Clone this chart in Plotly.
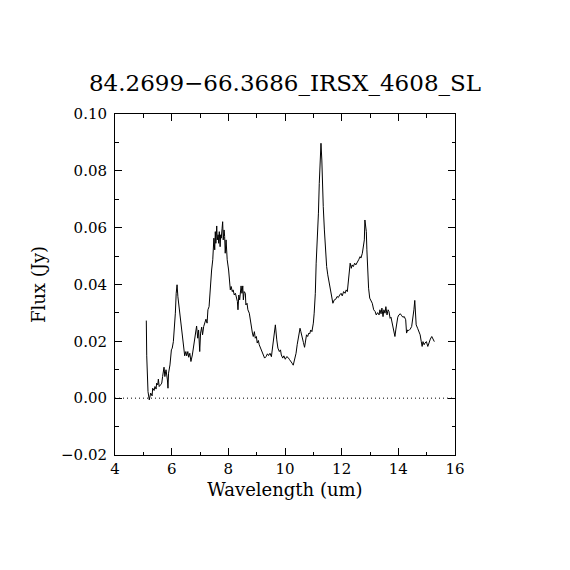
import plotly.graph_objects as go

title_text = "84.2699\u221266.3686_IRSX_4608_SL"
x_label = "Wavelength (um)"
y_label = "Flux (Jy)"

wavelength = [
    5.105, 5.12, 5.165, 5.21, 5.26, 5.31, 5.33, 5.38, 5.41, 5.45, 5.47, 5.51, 5.53, 5.56,
    5.61, 5.65, 5.68, 5.73, 5.76, 5.80, 5.85, 5.87, 5.89, 5.94, 5.99, 6.02, 6.06, 6.09,
    6.13, 6.16, 6.19, 6.22, 6.27, 6.32, 6.36, 6.41, 6.46, 6.50, 6.53, 6.57, 6.60, 6.64,
    6.68, 6.73, 6.76, 6.81, 6.85, 6.88, 6.92, 6.95, 6.99, 7.02, 7.06, 7.09, 7.13, 7.18,
    7.21, 7.25, 7.28, 7.32, 7.34, 7.36, 7.39, 7.41, 7.45, 7.47, 7.49, 7.52, 7.54, 7.56,
    7.59, 7.61, 7.64, 7.66, 7.68, 7.71, 7.73, 7.75, 7.78, 7.80, 7.82, 7.85, 7.87, 7.89,
    7.92, 7.96, 8.01, 8.03, 8.07, 8.10, 8.14, 8.17, 8.21, 8.25, 8.28, 8.32, 8.34, 8.37,
    8.40, 8.42, 8.45, 8.48, 8.51, 8.53, 8.56, 8.60, 8.62, 8.66, 8.69, 8.74, 8.78, 8.81,
    8.85, 8.88, 8.92, 8.95, 8.99, 9.02, 9.06, 9.09, 9.14, 9.19, 9.23, 9.28, 9.33, 9.38,
    9.42, 9.47, 9.52, 9.57, 9.61, 9.66, 9.71, 9.75, 9.80, 9.84, 9.87, 9.92, 9.96, 10.01,
    10.06, 10.11, 10.15, 10.20, 10.25, 10.29, 10.34, 10.39, 10.43, 10.48, 10.53, 10.56,
    10.60, 10.65, 10.69, 10.73, 10.76, 10.80, 10.84, 10.87, 10.91, 10.95, 11.00, 11.03,
    11.07, 11.10, 11.14, 11.18, 11.21, 11.24, 11.27, 11.30, 11.32, 11.35, 11.39, 11.42,
    11.47, 11.51, 11.55, 11.60, 11.65, 11.69, 11.74, 11.79, 11.84, 11.88, 11.93, 11.98,
    12.02, 12.07, 12.12, 12.16, 12.20, 12.23, 12.27, 12.30, 12.34, 12.37, 12.41, 12.46,
    12.50, 12.55, 12.60, 12.65, 12.68, 12.73, 12.76, 12.80, 12.82, 12.85, 12.87, 12.89,
    12.92, 12.95, 12.99, 13.04, 13.08, 13.13, 13.18, 13.22, 13.27, 13.32, 13.35, 13.39,
    13.42, 13.46, 13.49, 13.53, 13.56, 13.60, 13.64, 13.67, 13.71, 13.74, 13.78, 13.81,
    13.85, 13.88, 13.91, 13.94, 13.98, 14.02, 14.07, 14.12, 14.16, 14.21, 14.26, 14.29,
    14.33, 14.37, 14.42, 14.47, 14.51, 14.55, 14.58, 14.60, 14.63, 14.68, 14.73, 14.77,
    14.81, 14.84, 14.87, 14.91, 14.94, 14.99, 15.04, 15.08, 15.13, 15.18, 15.22, 15.27,
]

flux = [
    0.0273, 0.0149, 0.0023, -0.0006, 0.0018, 0.0008, 0.0035, 0.0027, 0.0041, 0.0032, 0.0053, 0.0047, 0.0067, 0.0041,
    0.0047, 0.0053, 0.0076, 0.0109, 0.0076, 0.0100, 0.0064, 0.0035, 0.0088, 0.0117, 0.0170, 0.0176, 0.0199, 0.0234,
    0.0299, 0.0369, 0.0399, 0.0357, 0.0311, 0.0264, 0.0217, 0.0176, 0.0149, 0.0164, 0.0149, 0.0164, 0.0144, 0.0158,
    0.0129, 0.0152, 0.0170, 0.0211, 0.0229, 0.0254, 0.0211, 0.0240, 0.0164, 0.0229, 0.0250, 0.0223, 0.0252, 0.0264,
    0.0278, 0.0264, 0.0311, 0.0322, 0.0352, 0.0393, 0.0416, 0.0451, 0.0487, 0.0533, 0.0563, 0.0522, 0.0586, 0.0545,
    0.0606, 0.0557, 0.0575, 0.0545, 0.0586, 0.0533, 0.0575, 0.0563, 0.0598, 0.0621, 0.0557, 0.0592, 0.0569, 0.0510,
    0.0557, 0.0487, 0.0451, 0.0410, 0.0381, 0.0393, 0.0375, 0.0381, 0.0363, 0.0369, 0.0352, 0.0340, 0.0311, 0.0363,
    0.0346, 0.0381, 0.0395, 0.0369, 0.0395, 0.0346, 0.0375, 0.0369, 0.0328, 0.0334, 0.0311, 0.0299, 0.0270, 0.0258,
    0.0229, 0.0217, 0.0234, 0.0211, 0.0217, 0.0194, 0.0203, 0.0188, 0.0176, 0.0164, 0.0152, 0.0141, 0.0146, 0.0156,
    0.0150, 0.0158, 0.0146, 0.0194, 0.0234, 0.0258, 0.0205, 0.0176, 0.0164, 0.0170, 0.0152, 0.0141, 0.0149, 0.0137,
    0.0146, 0.0143, 0.0137, 0.0131, 0.0123, 0.0116, 0.0135, 0.0158, 0.0188, 0.0217, 0.0246, 0.0234,
    0.0211, 0.0196, 0.0179, 0.0205, 0.0223, 0.0217, 0.0229, 0.0226, 0.0240, 0.0234, 0.0264, 0.0299,
    0.0369, 0.0475, 0.0557, 0.0651, 0.0756, 0.0850, 0.0897, 0.0838, 0.0756, 0.0674, 0.0592, 0.0522,
    0.0463, 0.0434, 0.0410, 0.0393, 0.0363, 0.0334, 0.0346, 0.0348, 0.0358, 0.0354, 0.0363, 0.0369,
    0.0360, 0.0375, 0.0369, 0.0381, 0.0375, 0.0405, 0.0440, 0.0475, 0.0457, 0.0469, 0.0463, 0.0475,
    0.0469, 0.0481, 0.0487, 0.0498, 0.0493, 0.0510, 0.0533, 0.0557, 0.0627, 0.0592, 0.0586, 0.0522,
    0.0451, 0.0387, 0.0352, 0.0340, 0.0334, 0.0311, 0.0305, 0.0293, 0.0301, 0.0293, 0.0311, 0.0297,
    0.0317, 0.0287, 0.0311, 0.0299, 0.0322, 0.0293, 0.0311, 0.0305, 0.0281, 0.0285, 0.0264, 0.0246,
    0.0234, 0.0217, 0.0240, 0.0270, 0.0285, 0.0293, 0.0297, 0.0290, 0.0285, 0.0287, 0.0276, 0.0229,
    0.0240, 0.0238, 0.0243, 0.0252, 0.0276, 0.0311, 0.0344, 0.0276, 0.0258, 0.0246, 0.0234, 0.0223,
    0.0199, 0.0182, 0.0199, 0.0188, 0.0194, 0.0199, 0.0182, 0.0196, 0.0208, 0.0217, 0.0211, 0.0199,
]

x_range = [4, 16]
y_range = [-0.02, 0.10]
x_ticks = [4, 6, 8, 10, 12, 14, 16]
y_ticks = [-0.02, 0.00, 0.02, 0.04, 0.06, 0.08, 0.10]
y_tick_labels = ["\u22120.02", "0.00", "0.02", "0.04", "0.06", "0.08", "0.10"]
zero_level = [0, 0]

FONT = "DejaVu Serif"
W = H = 562  # page adds an 8px body margin

fig = go.Figure()
fig.add_trace(go.Scatter(
    x=x_range, y=zero_level, mode="lines",
    line=dict(color="black", width=1, dash="1px,3px"),
    hoverinfo="skip", showlegend=False,
))
fig.add_trace(go.Scatter(
    x=wavelength, y=flux, mode="lines",
    line=dict(color="black", width=1),
    showlegend=False,
))

axis_common = dict(
    showline=True, linecolor="black", linewidth=1, mirror="ticks",
    ticks="inside", ticklen=7, tickwidth=1, tickcolor="black",
    showgrid=False, zeroline=False,
    tickfont=dict(family=FONT, size=15, color="black"),
)

fig.update_xaxes(
    range=x_range, tickvals=x_ticks, ticktext=[str(v) for v in x_ticks],
    minor=dict(ticks="inside", ticklen=3.5, dtick=1, tick0=4, tickcolor="black", showgrid=False),
    title=dict(text=x_label, font=dict(family=FONT, size=18, color="black"), standoff=6),
    **axis_common,
)
fig.update_yaxes(
    range=y_range, tickvals=y_ticks, ticktext=y_tick_labels,
    minor=dict(ticks="inside", ticklen=3.5, dtick=0.01, tick0=0, tickcolor="black", showgrid=False),
    title=dict(text=y_label, font=dict(family=FONT, size=18, color="black"), standoff=10),
    ticklabelstandoff=4,
    **axis_common,
)

fig.update_layout(
    width=W, height=H,
    margin=dict(l=107, r=W - 447, t=106, b=H - 447),
    paper_bgcolor="white", plot_bgcolor="white",
    title=dict(text=title_text, x=(285 - 8) / W, xanchor="center", y=1 - 75 / H, yanchor="middle",
               font=dict(family=FONT, size=23, color="black")),
)

fig.write_html("out.html")
